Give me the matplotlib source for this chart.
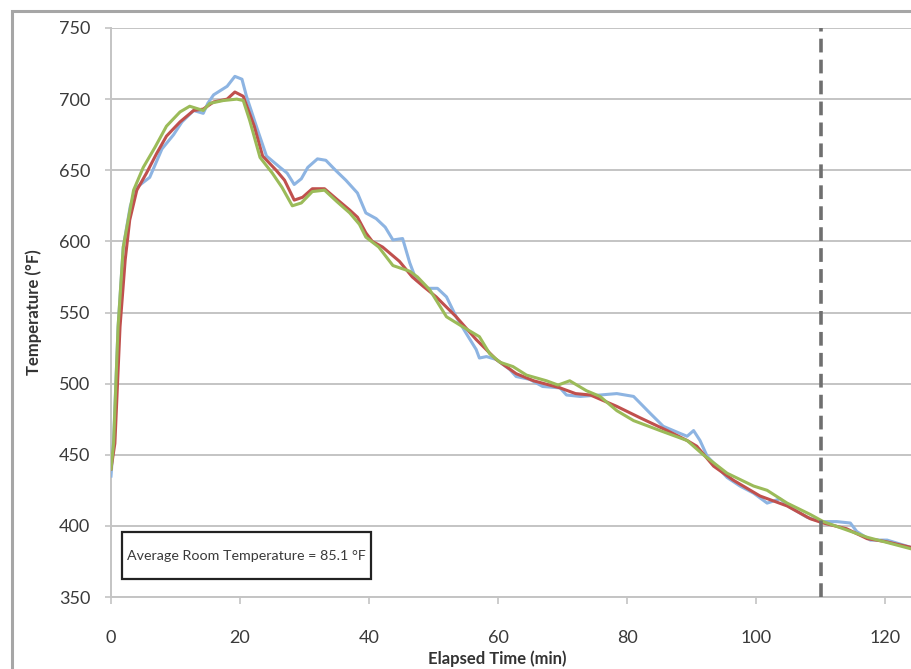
import matplotlib
matplotlib.use("Agg")
import matplotlib.pyplot as plt
from matplotlib.patches import Rectangle

# thermocouple readings (time in min, temperature in F)
blue_t = [0, 0.4, 1.1, 1.9, 3.0, 4.0, 6.0, 7.9, 9.7, 11.0, 12.8, 14.3, 15.0, 15.9, 18.0, 19.2,
          20.3, 21.0, 22.6, 24.1, 26.2, 27.3, 28.4, 29.5, 30.5, 32.0, 33.3, 34.8, 36.4, 38.2,
          39.5, 41.1, 42.5, 43.7, 45.2, 46.3, 47.3, 48.9, 50.6, 52.0, 53.5, 55.1, 56.6, 57.1,
          58.2, 59.7, 61.8, 62.8, 64.9, 66.9, 69.6, 70.6, 72.7, 75.8, 78.4, 81.0, 83.6, 85.6,
          88.2, 89.3, 90.3, 91.3, 92.4, 95.5, 97.5, 99.6, 101.7, 103.7, 105.3, 107.9, 110.0,
          112.5, 114.6, 115.6, 117.7, 120.3, 123.9]
blue_T = [435, 460, 540, 596, 625, 638, 645, 665, 675, 684, 692, 690, 697, 703, 709, 716,
          714, 702, 680, 660, 652, 648, 640, 644, 652, 658, 657, 650, 643, 634,
          620, 616, 610, 601, 602, 585, 573, 567, 567, 561, 547, 535, 524, 518,
          519, 517, 510, 505, 503, 498, 497, 492, 491, 492, 493, 491, 479, 470,
          465, 463, 467, 460, 449, 434, 428, 423, 416, 419, 413, 406, 403,
          403, 402, 396, 390, 390, 385]

red_t = [0, 0.6, 1.4, 2.2, 2.9, 4.0, 5.5, 7.1, 8.6, 10.7, 12.8, 14.3, 15.9, 18.0, 19.2, 20.5,
         22.2, 23.5, 25.6, 26.9, 28.4, 29.7, 31.2, 33.1, 34.9, 37.0, 38.2, 39.5, 40.5, 42.1,
         44.7, 46.7, 48.5, 50.4, 53.5, 56.6, 59.7, 62.8, 65.5, 69.6, 72.0, 74.3, 78.4, 82.0,
         86.2, 89.3, 90.8, 93.4, 96.5, 100.6, 104.8, 108.4, 110.4, 114.0, 117.2, 120.0, 123.9]
red_T = [440, 458, 540, 587, 615, 636, 648, 662, 674, 684, 692, 693, 698, 700, 705, 702,
         681, 660, 650, 643, 629, 631, 637, 637, 630, 622, 617, 606, 600, 596,
         586, 575, 568, 561, 547, 531, 517, 507, 502, 497, 493, 492, 484, 476,
         467, 460, 456, 442, 432, 421, 414, 405, 402, 398, 391, 389, 385]

green_t = [0, 0.4, 1.1, 1.9, 3.5, 5.0, 6.8, 8.6, 10.7, 12.2, 14.3, 15.3, 17.4, 19.5, 20.5,
           21.5, 23.1, 25.0, 26.5, 28.1, 29.5, 31.2, 33.1, 35.0, 37.0, 38.5, 39.5, 41.5,
           43.7, 46.3, 47.5, 49.4, 52.0, 54.5, 57.1, 58.7, 60.3, 62.3, 64.4, 67.5, 69.3,
           71.1, 73.7, 75.8, 78.4, 81.0, 85.1, 89.3, 91.8, 95.5, 99.6, 101.7, 104.8, 108.4,
           110.4, 117.2, 123.9]
green_T = [440, 458, 540, 596, 636, 652, 666, 681, 691, 695, 692, 697, 699, 700, 699,
           685, 659, 648, 638, 625, 627, 635, 636, 628, 620, 612, 603, 596,
           583, 579, 575, 566, 547, 540, 533, 521, 515, 512, 506, 502, 499,
           502, 495, 491, 481, 474, 467, 460, 450, 437, 428, 425, 416, 408,
           403, 392, 384]

Y_TICKS = [350, 400, 450, 500, 550, 600, 650, 700, 750]
X_TICKS = [0, 20, 40, 60, 80, 100, 120]
MARKER_TIME = 110
NOTE = "Average Room Temperature = 85.1 \u00b0F"

plt.rcParams["font.family"] = ["Lato", "DejaVu Sans"]

W, H = 911, 669
fig = plt.figure(figsize=(W / 100, H / 100), dpi=100)
ax = fig.add_axes([111 / W, 72 / H, 1 - 111 / W, 569 / H])

ax.plot(blue_t, blue_T, color="#8db4e2", lw=2.2, zorder=3)
ax.plot(red_t, red_T, color="#c0504d", lw=2.2, zorder=4)
ax.plot(green_t, green_T, color="#9bbb59", lw=2.2, zorder=5)
ax.axvline(MARKER_TIME, color="#6f6f6f", lw=2.6, dashes=(3.8, 2.0), zorder=6)

ax.set_xlim(0, 124)
ax.set_ylim(350, 750)
ax.set_xticks(X_TICKS)
ax.set_yticks(Y_TICKS)
ax.grid(axis="y", color="#c4c4c4", lw=1.4, zorder=1)
for side in ["top", "right"]:
    ax.spines[side].set_visible(False)
for side in ["left", "bottom"]:
    ax.spines[side].set_color("#c4c4c4")
    ax.spines[side].set_linewidth(1.4)
ax.tick_params(axis="x", length=5, width=1.2, color="#c4c4c4", pad=19,
               labelsize=13, labelcolor="#3a3a3a")
ax.tick_params(axis="y", length=4, width=1.2, color="#c4c4c4", pad=11,
               labelsize=13, labelcolor="#3a3a3a")

ax.set_xlabel("Elapsed Time (min)", fontsize=12, fontweight="bold", color="#333333")
ax.xaxis.set_label_coords(0.4825, -0.0935)
ax.set_ylabel("Temperature (\u00b0F)", fontsize=12, fontweight="bold", color="#333333")
ax.yaxis.set_label_coords(-0.086, 0.5)

# note box
ax.add_patch(Rectangle((11 / 800, 18 / 569), 249 / 800, 47 / 569, transform=ax.transAxes,
                       fill=True, facecolor="white", edgecolor="#222222", lw=1.6, zorder=7))
ax.text(135.5 / 800, 41.5 / 569, NOTE, transform=ax.transAxes, ha="center", va="center",
        fontsize=10.3, color="#3a3a3a", zorder=8)

# outer chart frame (cropped at right and bottom)
fig.patches.append(Rectangle((11.5 / W, -0.1), 1.2, 1.1 - 11.5 / H, transform=fig.transFigure,
                             fill=False, edgecolor="#a6a6a6", lw=2.2))

fig.savefig("out.png", dpi=100)
